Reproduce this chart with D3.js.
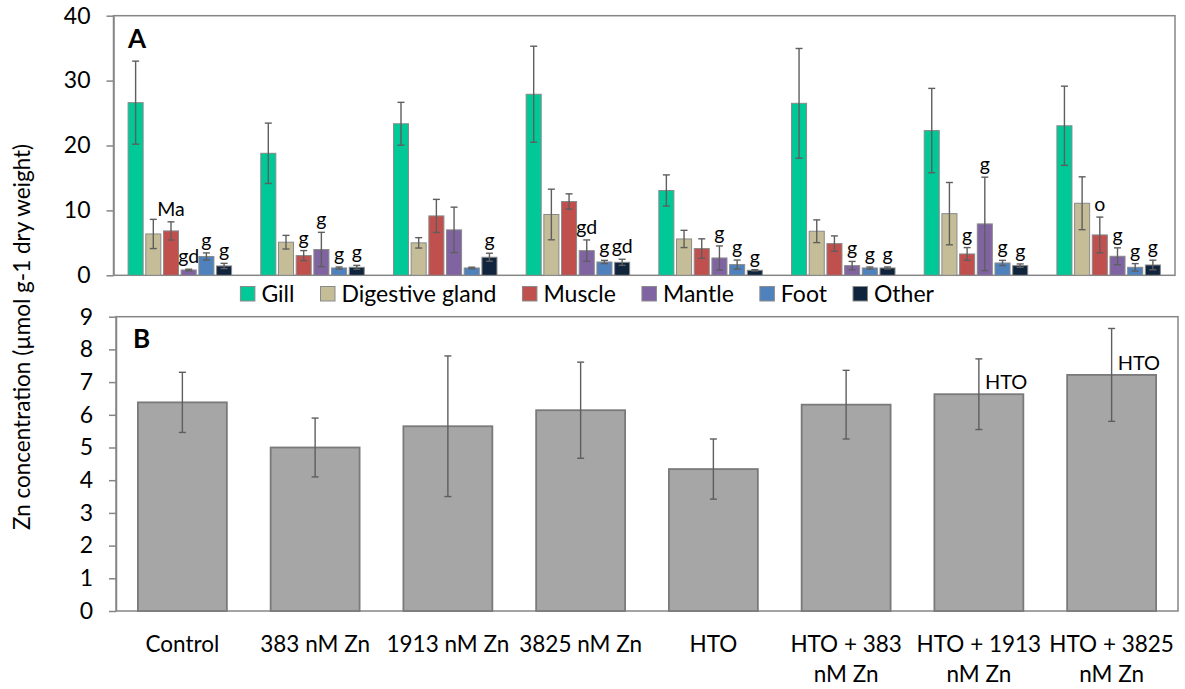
<!DOCTYPE html>
<html><head><meta charset="utf-8">
<script src="https://cdn.jsdelivr.net/npm/d3@7"></script>
<style>
body{margin:0;background:#fff;}
svg{display:block;font-family:Lato, "Open Sans", sans-serif;}
</style></head><body>
<svg id="chart" width="1185" height="689"></svg>
<script>
// ---------- data ----------
const groups = ["Control","383 nM Zn","1913 nM Zn","3825 nM Zn","HTO","HTO + 383 nM Zn","HTO + 1913 nM Zn","HTO + 3825 nM Zn"];
const groupLabelLines = [["Control"],["383 nM Zn"],["1913 nM Zn"],["3825 nM Zn"],["HTO"],["HTO + 383","nM Zn"],["HTO + 1913","nM Zn"],["HTO + 3825","nM Zn"]];
const tissues = ["Gill","Digestive gland","Muscle","Mantle","Foot","Other"];

// Panel A: mean and error per tissue across groups
const gill      = [26.6, 18.8, 23.35, 27.9, 13.07, 26.5, 22.3, 23.04];
const gillErr   = [6.4, 4.65, 3.3, 7.4, 2.4, 8.45, 6.5, 6.1];
const digGland  = [6.37, 5.1, 5.0, 9.37, 5.6, 6.79, 9.5, 11.1];
const digErr    = [2.25, 1.05, 0.8, 3.9, 1.33, 1.75, 4.8, 4.07];
const muscle    = [6.84, 3.04, 9.15, 11.37, 4.12, 4.89, 3.29, 6.22];
const muscleErr = [1.4, 0.77, 2.55, 1.18, 1.5, 1.18, 0.98, 2.75];
const mantle    = [0.82, 3.97, 7.0, 3.8, 2.67, 1.49, 7.92, 2.93];
const mantleErr = [0.12, 2.65, 3.5, 1.65, 1.85, 0.65, 7.2, 1.3];
const foot      = [2.9, 1.13, 1.13, 2.05, 1.65, 1.13, 1.9, 1.23];
const footErr   = [0.55, 0.15, 0.12, 0.25, 0.7, 0.15, 0.4, 0.57];
const other     = [1.44, 1.23, 2.78, 2.0, 0.77, 1.13, 1.49, 1.59];
const otherErr  = [0.4, 0.3, 0.62, 0.47, 0.1, 0.15, 0.26, 0.74];

const annGill   = ["","","","","","","",""];
const annDig    = ["","","","","","","",""];
const annMuscle = ["Ma","g","","","","","g","o"];
const annMantle = ["gd","g","","gd","g","g","g","g"];
const annFoot   = ["g","g","","g","g","g","g","g"];
const annOther  = ["g","g","g","gd","g","g","g","g"];

const ticksA = [0,10,20,30,40];

// Panel B: whole-body
const totalZn    = [6.38, 5.0, 5.65, 6.14, 4.34, 6.31, 6.63, 7.22];
const totalErr   = [0.92, 0.9, 2.15, 1.47, 0.92, 1.05, 1.08, 1.42];
const annTotal   = ["","","","","","","HTO","HTO"];
const ticksB = [0,1,2,3,4,5,6,7,8,9];

const yTitle = "Zn concentration (µmol g-1 dry weight)";

// ---------- styles ----------
const tissueColors = ["#00C896","#C4BD97","#C0504D","#8064A2","#4F81BD","#10243E"];
const axisColor = "#868686";
const errColor = "#5e5e5e";
const FS = 22.5;
const FS_TICK = 23;
const FS_LEG = 23;

const svg = d3.select("#chart");

const seriesA = [
  {v: gill, e: gillErr, a: annGill},
  {v: digGland, e: digErr, a: annDig},
  {v: muscle, e: muscleErr, a: annMuscle},
  {v: mantle, e: mantleErr, a: annMantle},
  {v: foot, e: footErr, a: annFoot},
  {v: other, e: otherErr, a: annOther}
];

// ---------- Panel A ----------
const xA = d3.scaleBand().domain(groups).range([113.5, 1175]).padding(0);
const xInner = d3.scaleBand().domain(tissues)
  .range([xA.bandwidth()*0.1, xA.bandwidth()*0.9]).paddingInner(0.15).paddingOuter(0.075);
const yA = d3.scaleLinear().domain([0,40]).range([275.3, 15.7]);

const gA = svg.append("g");
gA.append("rect").attr("x", xA.range()[0]).attr("y", yA(40))
  .attr("width", xA.range()[1]-xA.range()[0]).attr("height", yA(0)-yA(40))
  .attr("fill","none").attr("stroke", axisColor).attr("stroke-width",1.5);

const axA = gA.append("g").attr("transform", `translate(${xA.range()[0]},0)`)
  .call(d3.axisLeft(yA).tickValues(ticksA).tickSize(7).tickSizeOuter(0).tickPadding(16).tickFormat(d3.format("d")));
axA.select(".domain").attr("stroke", axisColor).attr("stroke-width",1.5);
axA.selectAll(".tick line").attr("stroke", axisColor).attr("stroke-width",1.5);
axA.selectAll(".tick text").attr("font-size", FS_TICK).attr("fill","#000").attr("font-family","Lato");

seriesA.forEach((s, si) => {
  const t = tissues[si];
  const gS = gA.append("g");
  groups.forEach((g, gi) => {
    const x = xA(g) + xInner(t);
    const w = xInner.bandwidth();
    const v = s.v[gi], e = s.e[gi];
    gS.append("rect").attr("x", x).attr("y", yA(v)).attr("width", w).attr("height", yA(0)-yA(v))
      .attr("fill", tissueColors[si]).attr("stroke", "#8a8a8a").attr("stroke-width",1);
    const cx = x + w/2;
    gS.append("line").attr("x1",cx).attr("x2",cx).attr("y1",yA(v+e)).attr("y2",yA(Math.max(0,v-e)))
      .attr("stroke",errColor).attr("stroke-width",1.4);
    [v+e, Math.max(0,v-e)].forEach(yy => {
      gS.append("line").attr("x1",cx-3.5).attr("x2",cx+3.5).attr("y1",yA(yy)).attr("y2",yA(yy))
        .attr("stroke",errColor).attr("stroke-width",1.4);
    });
    if (s.a[gi]) {
      gS.append("text").attr("x", cx).attr("y", yA(v+e)-6).attr("text-anchor","middle")
        .attr("font-size", 19.5).attr("fill","#000").text(s.a[gi]);
    }
  });
});

gA.append("text").attr("x", xA.range()[0]+14.5).attr("y", 48.3)
  .attr("font-size", 26).attr("font-weight","bold").attr("fill","#000").text("A");

// ---------- Legend ----------
const legend = svg.append("g");
let lx = 240.4;
tissues.forEach((t, i) => {
  legend.append("rect").attr("x", lx).attr("y", 286.5).attr("width",14.5).attr("height",14.5)
    .attr("fill", tissueColors[i]).attr("stroke","#8a8a8a").attr("stroke-width",1);
  const tx = legend.append("text").attr("x", lx+21).attr("y", 301.5).attr("font-size", FS_LEG)
    .attr("fill","#000").text(t);
  lx += 21 + tx.node().getComputedTextLength() + 26;
});

// ---------- Panel B ----------
const xB = d3.scaleBand().domain(groups).range([116, 1178]).paddingInner(0.33).paddingOuter(0.165);
const yB = d3.scaleLinear().domain([0,9]).range([611, 316.7]);

const gB = svg.append("g");
gB.append("rect").attr("x", xB.range()[0]).attr("y", yB(9))
  .attr("width", xB.range()[1]-xB.range()[0]).attr("height", yB(0)-yB(9))
  .attr("fill","none").attr("stroke", axisColor).attr("stroke-width",1.5);

const axB = gB.append("g").attr("transform", `translate(${xB.range()[0]},0)`)
  .call(d3.axisLeft(yB).tickValues(ticksB).tickSize(7).tickSizeOuter(0).tickPadding(16).tickFormat(d3.format("d")));
axB.select(".domain").attr("stroke", axisColor).attr("stroke-width",1.5);
axB.selectAll(".tick line").attr("stroke", axisColor).attr("stroke-width",1.5);
axB.selectAll(".tick text").attr("font-size", FS_TICK).attr("fill","#000").attr("font-family","Lato");

groups.forEach((g, gi) => {
  const x = xB(g), w = xB.bandwidth(), v = totalZn[gi], e = totalErr[gi];
  gB.append("rect").attr("x", x).attr("y", yB(v)).attr("width", w).attr("height", yB(0)-yB(v))
    .attr("fill","#A6A6A6").attr("stroke","#7a7a7a").attr("stroke-width",1.8);
  const cx = x + w/2;
  gB.append("line").attr("x1",cx).attr("x2",cx).attr("y1",yB(v+e)).attr("y2",yB(v-e))
    .attr("stroke",errColor).attr("stroke-width",1.4);
  [v+e, v-e].forEach(yy => {
    gB.append("line").attr("x1",cx-3.5).attr("x2",cx+3.5).attr("y1",yB(yy)).attr("y2",yB(yy))
      .attr("stroke",errColor).attr("stroke-width",1.4);
  });
  if (annTotal[gi]) {
    gB.append("text").attr("x", cx+6).attr("y", yB(v)-5).attr("font-size", 20)
      .attr("fill","#000").text(annTotal[gi]);
  }
  const lab = gB.append("text").attr("text-anchor","middle").attr("font-size", FS).attr("fill","#000");
  groupLabelLines[gi].forEach((ln, li) => {
    lab.append("tspan").attr("x", cx).attr("y", 651.7 + li*30).text(ln);
  });
});

gB.append("text").attr("x", xB.range()[0]+17).attr("y", 348)
  .attr("font-size", 26).attr("font-weight","bold").attr("fill","#000").text("B");

// ---------- Y title ----------
svg.append("text").attr("transform","translate(30,337) rotate(-90)").attr("text-anchor","middle")
  .attr("font-size", FS).attr("fill","#000").text(yTitle);
</script>
</body></html>
